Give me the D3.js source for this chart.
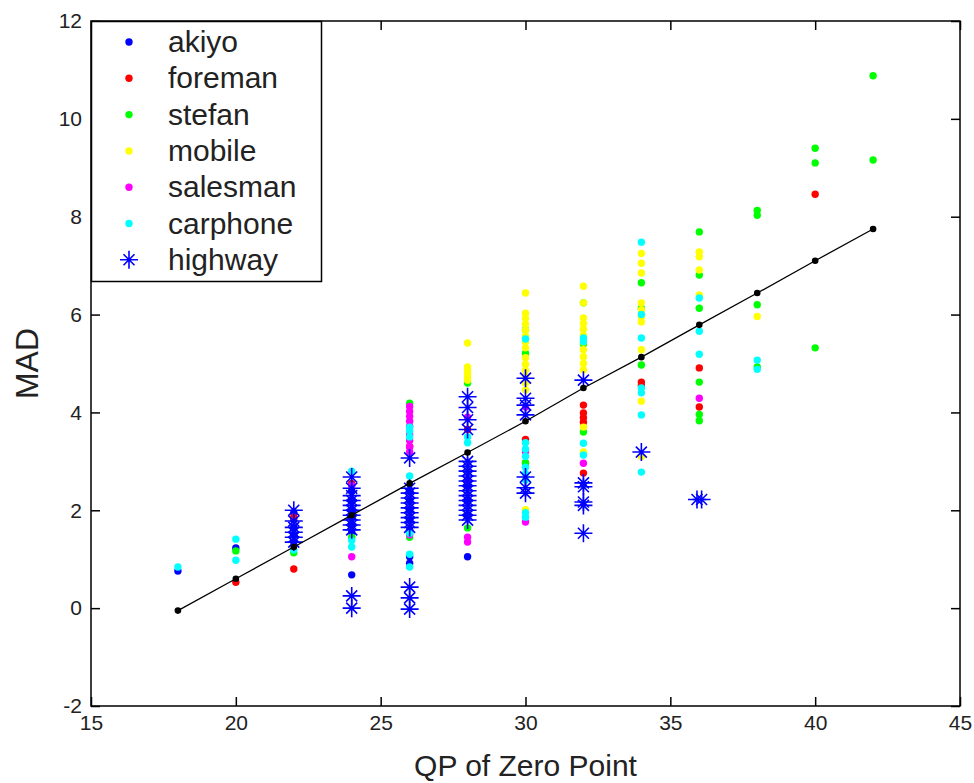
<!DOCTYPE html>
<html><head><meta charset="utf-8">
<script src="https://cdn.jsdelivr.net/npm/d3@7"></script>
<style>html,body{margin:0;padding:0;background:#fff;}svg{display:block;font-family:"Liberation Sans",Arial,sans-serif;}</style>
</head><body>
<svg id="chart" width="974" height="783"></svg>
<script>
const xTicks = [15,20,25,30,35,40,45];
const yTicks = [-2,0,2,4,6,8,10,12];
const seriesNames = ["akiyo","foreman","stefan","mobile","salesman","carphone","highway"];
const seriesColors = ["#0000ff","#ff0000","#00ff00","#ffff00","#ff00ff","#00ffff","#0000ff"];

const akiyo = [[18,0.76],[20,1.23],[22,1.35],[22,1.5],[22,1.65],[22,1.8],[22,1.95],[24,0.68],[24,1.55],[24,1.7],[24,1.85],[24,2.0],[24,2.2],[24,2.4],[26,0.92],[26,1.05],[26,1.6],[26,1.8],[26,2.0],[26,2.2],[26,2.4],[28,1.05],[28,1.9],[28,2.2],[28,2.5]];
const foreman = [[20,0.53],[22,0.80],[22,1.86],[24,2.55],[26,3.3],[28,3.65],[30,2.97],[30,3.45],[32,4.15],[32,3.99],[32,3.89],[32,3.8],[32,2.76],[34,4.62],[34,4.55],[36,4.91],[36,4.11],[40,8.46]];
const stefan = [[20,1.17],[22,1.13],[24,1.45],[26,4.19],[26,1.45],[28,4.60],[28,1.64],[30,5.69],[30,5.21],[30,2.97],[32,6.24],[32,3.60],[32,5.4],[34,6.65],[34,6.13],[34,4.97],[36,7.69],[36,6.81],[36,6.13],[36,4.62],[36,3.96],[36,3.83],[38,8.13],[38,8.03],[38,6.20],[38,4.93],[40,9.40],[40,9.10],[40,5.32],[42,10.88],[42,9.16]];
const mobile = [[28,5.42],[28,4.93],[28,4.85],[28,4.78],[28,4.70],[28,4.66],[30,6.44],[30,6.03],[30,5.92],[30,5.80],[30,5.68],[30,5.56],[30,5.44],[30,5.32],[30,5.12],[30,4.98],[30,4.86],[30,4.74],[30,4.60],[30,4.46],[30,2.01],[32,6.58],[32,6.24],[32,5.93],[32,5.82],[32,5.70],[32,5.58],[32,5.44],[32,5.28],[32,5.14],[32,5.00],[32,4.87],[32,3.70],[32,3.19],[34,7.25],[34,7.05],[34,6.85],[34,6.24],[34,6.10],[34,5.95],[34,5.85],[34,5.28],[34,4.23],[34,3.10],[36,7.28],[36,7.18],[36,6.91],[36,6.40],[38,5.96]];
const salesman = [[24,1.05],[24,2.5],[26,4.12],[26,4.02],[26,3.92],[26,3.82],[26,3.72],[26,3.55],[26,3.42],[26,3.30],[26,3.19],[26,1.5],[28,1.35],[28,1.45],[28,3.9],[28,2.6],[30,4.11],[30,1.76],[30,3.2],[32,2.96],[36,4.29]];
const carphone = [[18,0.84],[20,1.41],[20,0.98],[22,1.19],[24,2.80],[24,1.25],[24,1.38],[26,3.70],[26,3.62],[26,3.50],[26,2.7],[26,1.53],[26,1.10],[26,0.84],[28,3.38],[28,3.5],[30,3.38],[30,3.25],[30,3.10],[30,2.88],[30,2.75],[30,2.62],[30,1.95],[30,1.86],[30,5.5],[32,5.52],[32,5.45],[32,3.37],[32,3.13],[34,7.48],[34,5.52],[34,4.50],[34,4.40],[34,3.95],[34,2.78],[34,6.0],[36,6.34],[36,5.66],[36,5.19],[38,5.07],[38,4.88]];
const highway = [[22,2.0],[22,1.78],[22,1.65],[22,1.55],[22,1.45],[22,1.35],
 [24,2.68],[24,2.45],[24,2.3],[24,2.2],[24,2.1],[24,2.0],[24,1.9],[24,1.8],[24,1.7],[24,1.6],[24,0.25],[24,0.0],
 [26,3.07],[26,2.45],[26,2.35],[26,2.25],[26,2.15],[26,2.05],[26,1.95],[26,1.85],[26,1.75],[26,1.65],[26,0.43],[26,0.21],[26,-0.02],
 [28,4.32],[28,4.1],[28,3.85],[28,3.65],[28,3.0],[28,2.9],[28,2.8],[28,2.7],[28,2.6],[28,2.5],[28,2.4],[28,2.3],[28,2.2],[28,2.1],[28,2.0],[28,1.9],[28,1.8],
 [30,4.70],[30,4.29],[30,4.15],[30,3.95],[30,2.68],[30,2.46],[30,2.35],
 [32,4.66],[32,2.56],[32,2.48],[32,2.17],[32,2.10],[32,1.53],
 [34,3.19],[35.92,2.22],[36.08,2.22]];
const fitQP = [18,20,22,24,26,28,30,32,34,36,38,40,42];
const fitMAD = [-0.05,0.60,1.25,1.90,2.55,3.18,3.82,4.50,5.13,5.79,6.44,7.10,7.75];

const dotSeries = [akiyo,foreman,stefan,mobile,salesman,carphone];

const svg = d3.select("#chart");
const L=91, R=960, T=21, B=706;
const x = d3.scaleLinear().domain([15,45]).range([L,R]);
const y = d3.scaleLinear().domain([-2,12]).range([B,T]);

svg.append("rect").attr("x",0).attr("y",0).attr("width",974).attr("height",783).attr("fill","#fff");

const starPath = "M-9,0H9M0,-9V9M-5.5,-5.5L5.5,5.5M-5.5,5.5L5.5,-5.5";
const DOT_R = 3.7;

dotSeries.forEach((s,i)=>{
  svg.append("g").selectAll("circle").data(s).join("circle")
    .attr("cx",d=>x(d[0])).attr("cy",d=>y(d[1])).attr("r",DOT_R)
    .attr("fill",seriesColors[i]);
});
svg.append("g").selectAll("path").data(highway).join("path")
  .attr("transform",d=>`translate(${x(d[0])},${y(d[1])})`)
  .attr("d",starPath).attr("stroke","#0000ff").attr("stroke-width",1.6).attr("fill","none");

const fitData = fitQP.map((q,i)=>[q,fitMAD[i]]);
svg.append("path").datum(fitData)
  .attr("d",d3.line().x(d=>x(d[0])).y(d=>y(d[1])))
  .attr("fill","none").attr("stroke","#000").attr("stroke-width",1.3);
svg.append("g").selectAll("circle").data(fitData).join("circle")
  .attr("cx",d=>x(d[0])).attr("cy",d=>y(d[1])).attr("r",3.3).attr("fill","#000");

const tickLen = 9;
const axB = svg.append("g").attr("transform",`translate(0,${B})`)
  .call(d3.axisBottom(x).tickValues(xTicks).tickSize(-tickLen).tickPadding(9).tickFormat(d3.format("d")));
const axT = svg.append("g").attr("transform",`translate(0,${T})`)
  .call(d3.axisTop(x).tickValues(xTicks).tickSize(-tickLen).tickFormat(""));
const axL = svg.append("g").attr("transform",`translate(${L},0)`)
  .call(d3.axisLeft(y).tickValues(yTicks).tickSize(-tickLen).tickPadding(9).tickFormat(d => d < 0 ? "-" + Math.abs(d) : String(d)));
const axR = svg.append("g").attr("transform",`translate(${R},0)`)
  .call(d3.axisRight(y).tickValues(yTicks).tickSize(-tickLen).tickFormat(""));
[axB,axT,axL,axR].forEach(a=>{
  a.select(".domain").remove();
  a.selectAll("line").attr("stroke","#000").attr("stroke-width",1.5);
  a.selectAll("text").attr("font-family","Liberation Sans, Arial, sans-serif").attr("font-size",21).attr("fill","#222");
});
svg.append("rect").attr("x",L).attr("y",T).attr("width",R-L).attr("height",B-T)
  .attr("fill","none").attr("stroke","#000").attr("stroke-width",1.5);

svg.append("text").attr("x",(L+R)/2).attr("y",776).attr("text-anchor","middle")
  .attr("font-size",30).attr("fill","#222").text("QP of Zero Point");
svg.append("text").attr("transform",`translate(38,${(T+B)/2}) rotate(-90)`).attr("text-anchor","middle")
  .attr("font-size",32).attr("fill","#222").text("MAD");

const lg = svg.append("g");
lg.append("rect").attr("x",L+0.5).attr("y",T+0.5).attr("width",230).attr("height",260)
  .attr("fill","#fff").attr("stroke","#000").attr("stroke-width",1.5);
seriesNames.forEach((n,i)=>{
  const cy = 42 + i*36.3;
  if(i<6){
    lg.append("circle").attr("cx",129).attr("cy",cy).attr("r",DOT_R).attr("fill",seriesColors[i]);
  } else {
    lg.append("path").attr("transform",`translate(129,${cy})`).attr("d",starPath)
      .attr("stroke","#0000ff").attr("stroke-width",1.6).attr("fill","none");
  }
  lg.append("text").attr("x",168).attr("y",cy+10).attr("font-size",30).attr("fill","#222").text(n);
});
</script>
</body></html>
